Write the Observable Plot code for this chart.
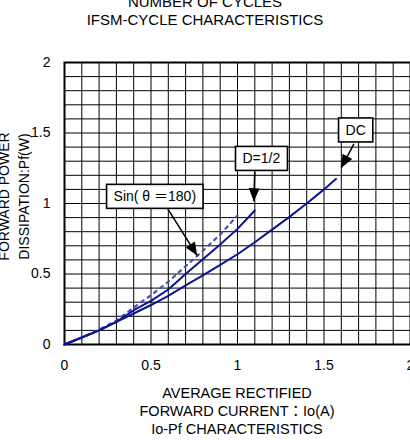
<!DOCTYPE html>
<html>
<head>
<meta charset="utf-8">
<script src="https://cdn.jsdelivr.net/npm/d3@7"></script>
<script src="https://cdn.jsdelivr.net/npm/@observablehq/plot@0.6"></script>
<style>
  html, body { margin: 0; padding: 0; background: #fff; width: 410px; height: 440px; overflow: hidden; }
  body { font-family: "Liberation Sans", "Noto Sans CJK JP", sans-serif; color: #000; }
  #title { margin-top: -7px; height: 36px; text-align: center; font-size: 15px; line-height: 18px; }
  #chart svg { display: block; max-width: none !important; overflow: visible; }
  #caption { margin-left: 64px; width: 346px; text-align: center; font-size: 14.5px; line-height: 18px; }
</style>
</head>
<body>
<div id="title"><div>NUMBER OF CYCLES</div><div>IFSM-CYCLE CHARACTERISTICS</div></div>
<div id="chart"></div>
<div id="caption"><div>AVERAGE RECTIFIED</div><div>FORWARD CURRENT：Io(A)</div><div>Io-Pf CHARACTERISTICS</div></div>
<script>
// ---- data ----
const xTicks = [0, 0.5, 1, 1.5, 2];
const yTicks = [0, 0.5, 1, 1.5, 2];
const gridValues = [0,0.1,0.2,0.3,0.4,0.5,0.6,0.7,0.8,0.9,1,1.1,1.2,1.3,1.4,1.5,1.6,1.7,1.8,1.9,2];

const dcIo = [0, 0.1, 0.2, 0.3, 0.4, 0.5, 0.6, 0.7, 0.8, 0.9, 1.0, 1.1, 1.2, 1.3, 1.4, 1.5, 1.57];
const dcPf = [0, 0.05, 0.10, 0.16, 0.22, 0.28, 0.345, 0.42, 0.49, 0.565, 0.64, 0.725, 0.815, 0.905, 1.0, 1.1, 1.175];

const halfIo = [0, 0.1, 0.2, 0.3, 0.4, 0.5, 0.6, 0.7, 0.8, 0.9, 1.0, 1.1];
const halfPf = [0, 0.05, 0.10, 0.16, 0.243, 0.31, 0.39, 0.50, 0.605, 0.71, 0.82, 0.95];

const sinIo = [0, 0.1, 0.2, 0.3, 0.4, 0.5, 0.6, 0.7, 0.8, 0.9, 1.0];
const sinPf = [0, 0.05, 0.105, 0.17, 0.262, 0.35, 0.445, 0.555, 0.665, 0.78, 0.915];

const labelText = ["Sin( θ ＝180)", "D=1/2", "DC"];
const labelX = [0.522, 1.138, 1.683];
const labelY = [1.047, 1.316, 1.518];
const arrowX1 = [0.597, 1.10, 1.673];
const arrowY1 = [0.962, 1.227, 1.423];
const arrowX2 = [0.767, 1.094, 1.60];
const arrowY2 = [0.631, 1.016, 1.253];

const yLabel = "FORWARD POWER\nDISSIPATION:Pf(W)";

// ---- build ----
const toPts = (xs, ys) => xs.map((x, i) => ({x, y: ys[i]}));
const labels = labelText.map((t, i) => ({t, x: labelX[i], y: labelY[i]}));
const arrows = arrowX1.map((x1, i) => ({x1, y1: arrowY1[i], x2: arrowX2[i], y2: arrowY2[i]}));
const font = '"Liberation Sans", "Noto Sans CJK JP", sans-serif';
const navy = "#0c1590";

const plot = Plot.plot({
  width: 420, height: 355,
  marginLeft: 64, marginRight: 10, marginTop: 33, marginBottom: 40,
  style: {fontFamily: font, fontSize: "14px", background: "white", color: "black"},
  x: {domain: [0, 2]},
  y: {domain: [0, 2]},
  marks: [
    Plot.gridX({ticks: gridValues, stroke: "black", strokeOpacity: 1, strokeWidth: 1}),
    Plot.gridY({ticks: gridValues, stroke: "black", strokeOpacity: 1, strokeWidth: 1}),
    Plot.frame({stroke: "black", strokeWidth: 2}),
    Plot.axisX({ticks: xTicks, tickSize: 0, tickPadding: 16, tickFormat: d => String(d), label: null, fontSize: 14}),
    Plot.axisY({ticks: yTicks, tickSize: 0, tickPadding: 14, tickFormat: d => String(d), label: null, fontSize: 14}),
    Plot.line(toPts(sinIo, sinPf), {x: "x", y: "y", stroke: "#4a4fb0", strokeWidth: 2.2, strokeDasharray: "3,5"}),
    Plot.line(toPts(halfIo, halfPf), {x: "x", y: "y", stroke: navy, strokeWidth: 2}),
    Plot.line(toPts(dcIo, dcPf), {x: "x", y: "y", stroke: navy, strokeWidth: 2}),
    Plot.link(arrows, {
      x1: "x1", y1: "y1", x2: "x2", y2: "y2", stroke: "black", strokeWidth: 1.5,
      render(index, scales, values, dimensions, context, next) {
        const g = next(index, scales, values, dimensions, context);
        const ns = "http://www.w3.org/2000/svg";
        for (const i of index) {
          const ax = values.x1[i], ay = values.y1[i], bx = values.x2[i], by = values.y2[i];
          const len = Math.hypot(bx - ax, by - ay);
          const ux = (bx - ax) / len, uy = (by - ay) / len;
          const L = 13, W = 5.5;
          const cx = bx - ux * L, cy = by - uy * L;
          const p = document.createElementNS(ns, "polygon");
          p.setAttribute("points", `${bx},${by} ${cx - uy * W},${cy + ux * W} ${cx + uy * W},${cy - ux * W}`);
          p.setAttribute("fill", "black");
          p.setAttribute("stroke", "none");
          g.appendChild(p);
        }
        return g;
      }
    }),
    Plot.text(labels, {
      x: "x", y: "y", text: "t", fontSize: 14, fill: "black",
      render(index, scales, values, dimensions, context, next) {
        const g = next(index, scales, values, dimensions, context);
        g.setAttribute("class", (g.getAttribute("class") || "") + " boxlabels");
        return g;
      }
    }),
    Plot.text([yLabel], {
      frameAnchor: "left", rotate: -90, dx: -52, dy: -7, fontSize: 14,
      lineHeight: 1.45, textAnchor: "middle", lineAnchor: "middle", fill: "black"
    })
  ]
});

document.getElementById("chart").appendChild(plot);

// white boxes with black border behind the annotation labels
const ns = "http://www.w3.org/2000/svg";
plot.querySelectorAll("g.boxlabels text").forEach(t => {
  const bb = t.getBBox();
  const r = document.createElementNS(ns, "rect");
  r.setAttribute("x", bb.x - 7);
  r.setAttribute("y", bb.y - 4);
  r.setAttribute("width", bb.width + 14);
  r.setAttribute("height", bb.height + 8);
  r.setAttribute("fill", "white");
  r.setAttribute("stroke", "black");
  r.setAttribute("stroke-width", 1.6);
  const tr = t.getAttribute("transform");
  if (tr) r.setAttribute("transform", tr);
  t.parentNode.insertBefore(r, t);
});
</script>
</body>
</html>
